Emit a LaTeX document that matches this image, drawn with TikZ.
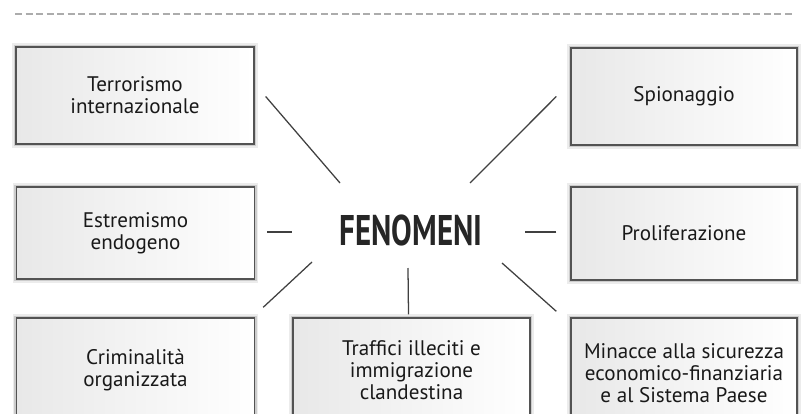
\documentclass[tikz,border=0pt]{standalone}
\usepackage{fontspec}
\setmainfont{PT Sans}
\newfontfamily\titolofont[FakeStretch=0.72]{PT Sans}
\usetikzlibrary{calc}

\tikzset{
 casella/.style={rectangle, align=center, text=black!90,
   font={\fontsize{15pt}{15.8pt}\selectfont},
   left color=gray!18, right color=white,
   draw=gray!65!black, line width=0.9pt,
   preaction={draw=gray!15, line width=5.5pt},
   preaction={draw=gray!40, line width=3pt}},
 raggio/.style={draw=black!75, line width=0.9pt}
}

\begin{document}
\begin{tikzpicture}[x=0.025cm, y=-0.025cm]
\useasboundingbox (0,0) rectangle (803,414);
\clip (0,0) rectangle (803,414);
\draw[gray!65, line width=1.2pt, dash pattern=on 5pt off 2.5pt] (15,14) -- (795,14);

% colonna sinistra
\node[casella, minimum width=5.95cm, minimum height=2.425cm] (terrorismo) at (135,95.5) {Terrorismo\\internazionale};
\node[casella, minimum width=5.95cm, minimum height=2.3cm] (estremismo) at (135.5,233) {Estremismo\\endogeno};
\node[casella, minimum width=5.95cm, minimum height=2.6cm] (criminalita) at (135.5,370) {Criminalit\`a\\organizzata};

% colonna destra
\node[casella, minimum width=5.65cm, minimum height=2.425cm] (spionaggio) at (684,96.5) {Spionaggio};
\node[casella, minimum width=5.65cm, minimum height=2.325cm] (proliferazione) at (684,233.5) {Proliferazione};
\node[casella, minimum width=5.65cm, minimum height=2.75cm] (minacce) at (684,373) {Minacce alla sicurezza\\economico-finanziaria\\e al Sistema Paese};

% centro
\node[casella, minimum width=5.925cm, minimum height=2.6cm] (traffici) at (411.5,370) {Traffici illeciti e\\immigrazione\\clandestina};
\node[text=black!85, font={\fontsize{30.5pt}{32pt}\titolofont\bfseries}] (fenomeni) at (411,230) {FENOMENI};

% raggi
\draw[raggio] ([shift={(11,1)}]terrorismo.east) -- ([shift={(-71,-47)}]fenomeni.center);
\draw[raggio] ([shift={(-14,0)}]spionaggio.west) -- ([shift={(59,-47)}]fenomeni.center);
\draw[raggio] ([shift={(12,-1)}]estremismo.east) -- ([shift={(-119,2)}]fenomeni.center);
\draw[raggio] ([shift={(-14,-1.5)}]proliferazione.west) -- ([shift={(114,2)}]fenomeni.center);
\draw[raggio] ([shift={(8,-10)}]criminalita.north east) -- ([shift={(-99,32)}]fenomeni.center);
\draw[raggio] ([shift={(-3,-3)}]traffici.north) -- ([shift={(-3,38)}]fenomeni.center);
\draw[raggio] ([shift={(-14,-6)}]minacce.north west) -- ([shift={(91,33)}]fenomeni.center);
\end{tikzpicture}
\end{document}
